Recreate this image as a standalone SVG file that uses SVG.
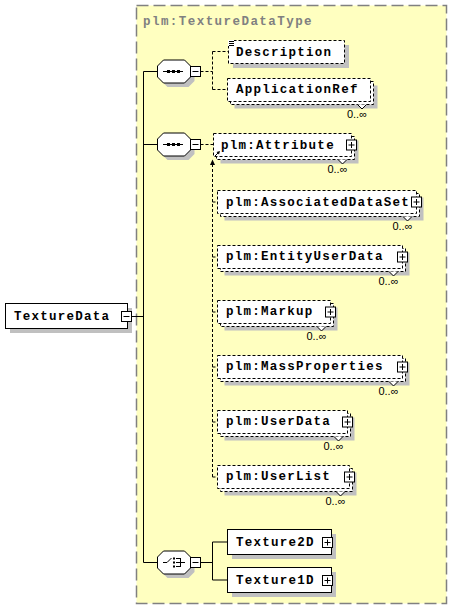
<svg xmlns="http://www.w3.org/2000/svg" xmlns:xlink="http://www.w3.org/1999/xlink" width="452" height="610" viewBox="0 0 452 610">
<style>
.bg{fill:#FFFFC0;stroke:#808080;stroke-width:1.5;stroke-dasharray:12 5}
.sh{fill:#C0C0C0;stroke:none}
.box{fill:#fff;stroke:#000;stroke-width:1}
.dbox{fill:#fff;stroke:#000;stroke-width:1;stroke-dasharray:3 2}
.lbl{font-family:"Liberation Mono",monospace;font-weight:bold;font-size:12.5px;letter-spacing:1.26px;fill:#000}
.ttl{font-family:"Liberation Mono",monospace;font-weight:bold;font-size:12.5px;letter-spacing:1.45px;fill:#808080}
.occ{font-family:"Liberation Sans",sans-serif;font-size:11px;text-anchor:end;fill:#000}
.ln{stroke:#000;stroke-width:1;fill:none}
.dl{stroke:#000;stroke-width:1;fill:none;stroke-dasharray:3 2}
.v{fill:#fff;stroke:#000;stroke-width:1}
</style>
<defs>
<g id="minus"><rect x="0" y="0" width="10" height="10" fill="#fff" stroke="#000"/><path d="M2 5H8" stroke="#000"/></g>
<g id="plus"><rect x="0" y="0" width="10" height="10" fill="#fff" stroke="#000"/><path d="M2 5H8M5 2V8" stroke="#000"/></g>
<path id="oct" d="M6 -11.5H27L33 -5.5V5.5L27 11.5H6L0 5.5V-5.5Z"/>
</defs>

<rect class="bg" x="136.5" y="5.5" width="310" height="598"/>
<text class="ttl" x="143" y="25">plm:TextureDataType</text>

<g id="connectors">
<path class="ln" d="M131 316.5H143.5M143.5 71.5V562.5M143.5 71.5H157.5M143.5 144.5H157.5M143.5 562.5H157.5"/>
<path class="dl" d="M200.5 71.5H212.5M212.5 51.5V89.5M212.5 51.5H228.5M212.5 89.5H227.5"/>
<path class="dl" d="M200.5 144.5H213.5M212.5 164V477M212.5 202H217.5M212.5 257H217.5M212.5 312H217.5M212.5 367H217.5M212.5 422H217.5M212.5 477H217.5"/>
<polygon points="212.5,159.5 210,165 215,165" fill="#000"/>
<path class="ln" d="M200.5 562.5H212.5M212.5 542V580M212.5 542H227.5M212.5 580H227.5"/>
</g>

<g id="TextureData">
<rect class="sh" x="10" y="308" width="122" height="25"/>
<rect class="box" x="5.5" y="303.5" width="122" height="25"/>
<text class="lbl" x="14" y="320">TextureData</text>
<use xlink:href="#minus" x="121.5" y="311.5"/>
</g>

<g id="seq1">
<use xlink:href="#oct" x="161.5" y="75.5" class="sh"/>
<use xlink:href="#oct" x="157.5" y="71.5" class="box"/>
<path class="ln" d="M163 71.5H183"/>
<rect x="167" y="70" width="3" height="3"/><rect x="172" y="70" width="3" height="3"/><rect x="177" y="70" width="3" height="3"/>
<use xlink:href="#minus" x="190.5" y="66.5"/>
</g>

<g id="Description">
<rect class="sh" x="233" y="45" width="116" height="23"/>
<rect class="dbox" x="228.5" y="40.5" width="116" height="23"/>
<rect x="228" y="40" width="6" height="6" fill="#fff"/>
<path class="ln" d="M229 41.5H234M229 43.5H234M229 45.5H234"/>
<text class="lbl" x="236" y="56">Description</text>
</g>

<g id="ApplicationRef">
<rect class="sh" x="234.5" y="85.5" width="143" height="23"/>
<rect class="dbox" x="230.5" y="81.5" width="143" height="23"/>
<rect class="dbox" x="227.5" y="78.5" width="143" height="23"/>
<polyline class="v" points="357.5,104.5 362,109 366.5,104.5"/>
<text class="lbl" x="236" y="93">ApplicationRef</text>
<text class="occ" x="367" y="118">0..∞</text>
</g>

<g id="seq2">
<use xlink:href="#oct" x="161.5" y="148.5" class="sh"/>
<use xlink:href="#oct" x="157.5" y="144.5" class="box"/>
<path class="ln" d="M163 144.5H183"/>
<rect x="167" y="143" width="3" height="3"/><rect x="172" y="143" width="3" height="3"/><rect x="177" y="143" width="3" height="3"/>
<use xlink:href="#minus" x="190.5" y="139.5"/>
</g>

<g id="Attribute">
<rect class="sh" x="220.5" y="140.5" width="138" height="23"/>
<rect class="dbox" x="216.5" y="136.5" width="138" height="23"/>
<rect class="dbox" x="213.5" y="133.5" width="138" height="23"/>
<polyline class="v" points="338,159.5 342.5,164 347,159.5"/>
<path class="ln" d="M215 156L219 152"/>
<polygon points="220,151 216.5,152 219,154.5" fill="#000"/>
<text class="lbl" x="221" y="148.5">plm:Attribute</text>
<use xlink:href="#plus" x="346.5" y="140"/>
<text class="occ" x="347.5" y="173">0..∞</text>
</g>

<g id="AssociatedDataSet">
<rect class="sh" x="224.5" y="197.5" width="199" height="23"/>
<rect class="dbox" x="220.5" y="193.5" width="199" height="23"/>
<rect class="dbox" x="217.5" y="190.5" width="199" height="23"/>
<polyline class="v" points="403,216.5 407.5,221 412,216.5"/>
<text class="lbl" x="226" y="205.5">plm:AssociatedDataSet</text>
<use xlink:href="#plus" x="411.5" y="197"/>
<text class="occ" x="412.5" y="230">0..∞</text>
</g>

<g id="EntityUserData">
<rect class="sh" x="224.5" y="252.5" width="185" height="23"/>
<rect class="dbox" x="220.5" y="248.5" width="185" height="23"/>
<rect class="dbox" x="217.5" y="245.5" width="185" height="23"/>
<polyline class="v" points="389,271.5 393.5,276 398,271.5"/>
<text class="lbl" x="226" y="260">plm:EntityUserData</text>
<use xlink:href="#plus" x="397.5" y="252"/>
<text class="occ" x="398.5" y="285">0..∞</text>
</g>

<g id="Markup">
<rect class="sh" x="224.5" y="307.5" width="113" height="23"/>
<rect class="dbox" x="220.5" y="303.5" width="113" height="23"/>
<rect class="dbox" x="217.5" y="300.5" width="113" height="23"/>
<polyline class="v" points="317,326.5 321.5,331 326,326.5"/>
<text class="lbl" x="226" y="315">plm:Markup</text>
<use xlink:href="#plus" x="325.5" y="307"/>
<text class="occ" x="326.5" y="340">0..∞</text>
</g>

<g id="MassProperties">
<rect class="sh" x="224.5" y="362.5" width="185" height="23"/>
<rect class="dbox" x="220.5" y="358.5" width="185" height="23"/>
<rect class="dbox" x="217.5" y="355.5" width="185" height="23"/>
<polyline class="v" points="389,381.5 393.5,386 398,381.5"/>
<text class="lbl" x="226" y="370">plm:MassProperties</text>
<use xlink:href="#plus" x="397.5" y="362"/>
<text class="occ" x="398.5" y="395">0..∞</text>
</g>

<g id="UserData">
<rect class="sh" x="224.5" y="417.5" width="130" height="23"/>
<rect class="dbox" x="220.5" y="413.5" width="130" height="23"/>
<rect class="dbox" x="217.5" y="410.5" width="130" height="23"/>
<polyline class="v" points="334,436.5 338.5,441 343,436.5"/>
<text class="lbl" x="226" y="425">plm:UserData</text>
<use xlink:href="#plus" x="342.5" y="417"/>
<text class="occ" x="343.5" y="450">0..∞</text>
</g>

<g id="UserList">
<rect class="sh" x="224.5" y="472.5" width="132" height="23"/>
<rect class="dbox" x="220.5" y="468.5" width="132" height="23"/>
<rect class="dbox" x="217.5" y="465.5" width="132" height="23"/>
<polyline class="v" points="336,491.5 340.5,496 345,491.5"/>
<text class="lbl" x="226" y="480">plm:UserList</text>
<use xlink:href="#plus" x="344.5" y="472"/>
<text class="occ" x="345.5" y="505">0..∞</text>
</g>

<g id="choice">
<use xlink:href="#oct" x="161.5" y="566.5" class="sh"/>
<use xlink:href="#oct" x="157.5" y="562.5" class="box"/>
<path class="ln" d="M163 562.5H167L171.5 558M176 558.5H180M176 562.5H185M176 566.5H180M180.5 558V567"/>
<rect x="173" y="557.5" width="2" height="2"/><rect x="173" y="561.5" width="2" height="2"/><rect x="173" y="565.5" width="2" height="2"/>
<use xlink:href="#minus" x="190.5" y="557.5"/>
</g>

<g id="Texture2D">
<rect class="sh" x="232" y="534" width="104" height="25"/>
<rect class="box" x="227.5" y="529.5" width="104" height="25"/>
<text class="lbl" x="236" y="545.5">Texture2D</text>
<use xlink:href="#plus" x="322.5" y="537.5"/>
</g>

<g id="Texture1D">
<rect class="sh" x="232" y="572" width="104" height="25"/>
<rect class="box" x="227.5" y="567.5" width="104" height="25"/>
<text class="lbl" x="236" y="583.5">Texture1D</text>
<use xlink:href="#plus" x="322.5" y="575.5"/>
</g>
</svg>
